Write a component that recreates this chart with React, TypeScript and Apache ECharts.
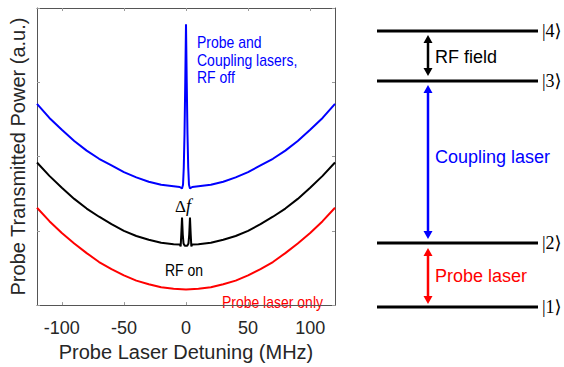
import React, { useEffect, useRef } from "react";
import * as echarts from "echarts";

// ---- data ----
const xTicks = [-100, -50, 0, 50, 100];

const redX = [-120, -110, -100, -90, -80, -70, -60, -50, -40, -30, -20, -10, 0, 10, 20, 30, 40, 50, 60, 70, 80, 90, 100, 110, 120];
const redY = [1.31, 1.13, 0.97, 0.83, 0.70, 0.58, 0.485, 0.40, 0.33, 0.28, 0.24, 0.22, 0.21, 0.22, 0.24, 0.28, 0.33, 0.40, 0.485, 0.58, 0.70, 0.83, 0.97, 1.13, 1.31];

const blackX = [-120, -110, -100, -90, -80, -70, -60, -50, -40, -30, -20, -10, -5, -4.3, -3.8, -3.2, -2.6, -2, -1, 0, 1, 2, 2.6, 3.2, 3.8, 4.3, 5, 10, 20, 30, 40, 50, 60, 70, 80, 90, 100, 110, 120];
const blackY = [1.92, 1.74, 1.58, 1.43, 1.30, 1.19, 1.09, 1.00, 0.93, 0.88, 0.84, 0.82, 0.815, 0.79, 0.95, 1.18, 0.95, 0.83, 0.80, 0.80, 0.80, 0.83, 0.95, 1.18, 0.95, 0.79, 0.815, 0.82, 0.84, 0.88, 0.93, 1.00, 1.09, 1.19, 1.30, 1.43, 1.58, 1.74, 1.92];

const blueX = [-120, -110, -100, -90, -80, -70, -60, -50, -40, -30, -20, -10, -5, -3.2, -2.4, -1.8, -1.2, -0.6, 0, 0.6, 1.2, 1.8, 2.4, 3.2, 5, 10, 20, 30, 40, 50, 60, 70, 80, 90, 100, 110, 120];
const blueY = [2.71, 2.52, 2.36, 2.21, 2.08, 1.97, 1.88, 1.79, 1.72, 1.66, 1.62, 1.60, 1.59, 1.57, 1.62, 1.85, 2.3, 3.0, 3.78, 3.0, 2.3, 1.85, 1.62, 1.57, 1.59, 1.60, 1.62, 1.66, 1.72, 1.79, 1.88, 1.97, 2.08, 2.21, 2.36, 2.52, 2.71];

const pairs = (xs: number[], ys: number[]) => xs.map((x, i) => [x, ys[i]]);

const FONT = "'Liberation Sans', Arial, sans-serif";
const SERIF = "'Liberation Serif', 'DejaVu Serif', serif";
const AX = "#555555";
const TICK = "#9a9a9a";
const TXT = "#262626";

function arrow(x: number, y1: number, y2: number, color: string) {
  const hl = 8;
  const hw = 4.5;
  return [
    { type: "line", shape: { x1: x, y1: y1 + hl - 1, x2: x, y2: y2 - hl + 1 }, style: { stroke: color, lineWidth: 2.5 } },
    { type: "polygon", shape: { points: [[x, y1], [x - hw, y1 + hl], [x + hw, y1 + hl]] }, style: { fill: color } },
    { type: "polygon", shape: { points: [[x, y2], [x - hw, y2 - hl], [x + hw, y2 - hl]] }, style: { fill: color } },
  ];
}

function level(y: number, label: string) {
  return [
    { type: "line", shape: { x1: 377, y1: y, x2: 538, y2: y }, style: { stroke: "#000", lineWidth: 3 } },
    { type: "text", x: 542, y: y, style: { text: label, fill: "#000", font: `18px ${SERIF}`, textAlign: "left", textVerticalAlign: "middle" } },
  ];
}

function txt(text: string, x: number, y: number, color: string, size = 14, align = "left", sy = 1) {
  return { type: "text", x, y, scaleY: sy, style: { text, fill: color, font: `${size}px ${FONT}`, textAlign: align, textVerticalAlign: "middle" } };
}

export default function App() {
  const ref = useRef<HTMLDivElement>(null);
  useEffect(() => {
    if (!ref.current) return;
    const chart = echarts.init(ref.current, null, { renderer: "svg" });
    const tickStyle = { color: TICK, width: 1 };
    const option: any = {
      animation: false,
      grid: { left: 34, right: 229, top: 8, bottom: 54 },
      xAxis: [
        {
          type: "value", min: -120, max: 120, position: "bottom",
          axisLine: { show: true, onZero: false, lineStyle: { color: AX, width: 1 } },
          axisTick: { show: true, inside: true, length: 3, customValues: xTicks, lineStyle: tickStyle },
          axisLabel: { show: true, customValues: xTicks, fontSize: 18, color: TXT, fontFamily: FONT, margin: 14 },
          splitLine: { show: false },
          name: "Probe Laser Detuning (MHz)", nameLocation: "middle", nameGap: 36,
          nameTextStyle: { fontSize: 20, color: TXT, fontFamily: FONT },
        },
        {
          type: "value", min: -120, max: 120, position: "top",
          axisLine: { show: true, onZero: false, lineStyle: { color: AX, width: 1 } },
          axisTick: { show: true, inside: true, length: 3, customValues: xTicks, lineStyle: tickStyle },
          axisLabel: { show: false },
          splitLine: { show: false },
        },
      ],
      yAxis: [
        {
          type: "value", min: 0, max: 4, interval: 1, position: "left",
          axisLine: { show: true, onZero: false, lineStyle: { color: AX, width: 1 } },
          axisTick: { show: true, inside: true, length: 3, lineStyle: tickStyle },
          axisLabel: { show: false },
          splitLine: { show: false },
          name: "Probe Transmitted Power (a.u.)", nameLocation: "middle", nameGap: 9, nameRotate: 90,
          nameTextStyle: { fontSize: 20, color: TXT, fontFamily: FONT },
        },
        {
          type: "value", min: 0, max: 4, interval: 1, position: "right",
          axisLine: { show: true, onZero: false, lineStyle: { color: AX, width: 1 } },
          axisTick: { show: true, inside: true, length: 3, lineStyle: tickStyle },
          axisLabel: { show: false },
          splitLine: { show: false },
        },
      ],
      series: [
        { type: "line", data: pairs(blueX, blueY), showSymbol: false, lineStyle: { color: "#0000ff", width: 2 }, itemStyle: { color: "#0000ff" } },
        { type: "line", data: pairs(blackX, blackY), showSymbol: false, lineStyle: { color: "#000000", width: 2 }, itemStyle: { color: "#000" } },
        { type: "line", data: pairs(redX, redY), showSymbol: false, lineStyle: { color: "#ff0000", width: 2 }, itemStyle: { color: "#ff0000" } },
      ],
      graphic: [
        txt("Probe and", 197, 42, "#0000ff", 14, "left", 1.14),
        txt("Coupling lasers,", 197, 60, "#0000ff", 14, "left", 1.14),
        txt("RF off", 197, 77, "#0000ff", 14, "left", 1.14),
        txt("RF on", 184, 270, "#000", 14, "center", 1.14),
        txt("Probe laser only", 323, 302, "#ff0000", 14, "right", 1.14),
        {
          type: "text", x: 183, y: 206,
          style: {
            text: "{a|Δ}{b|f}", textAlign: "center", textVerticalAlign: "middle",
            rich: {
              a: { font: `17px ${SERIF}`, fill: "#000" },
              b: { font: `italic 18px ${SERIF}`, fill: "#000" },
            },
          },
        },
        ...level(31, "|4⟩"),
        ...level(81, "|3⟩"),
        ...level(243, "|2⟩"),
        ...level(307, "|1⟩"),
        ...arrow(428, 35, 76, "#000"),
        ...arrow(428, 85, 239, "#0000ff"),
        ...arrow(428, 248, 304, "#ff0000"),
        txt("RF field", 435, 57, "#000", 18),
        txt("Coupling laser", 435, 157, "#0000ff", 18),
        txt("Probe laser", 435, 276, "#ff0000", 18),
      ],
    };
    chart.setOption(option);
    return () => chart.dispose();
  }, []);
  return <div ref={ref} style={{ width: 564, height: 367, position: "absolute", left: 0, top: 0 }} />;
}
